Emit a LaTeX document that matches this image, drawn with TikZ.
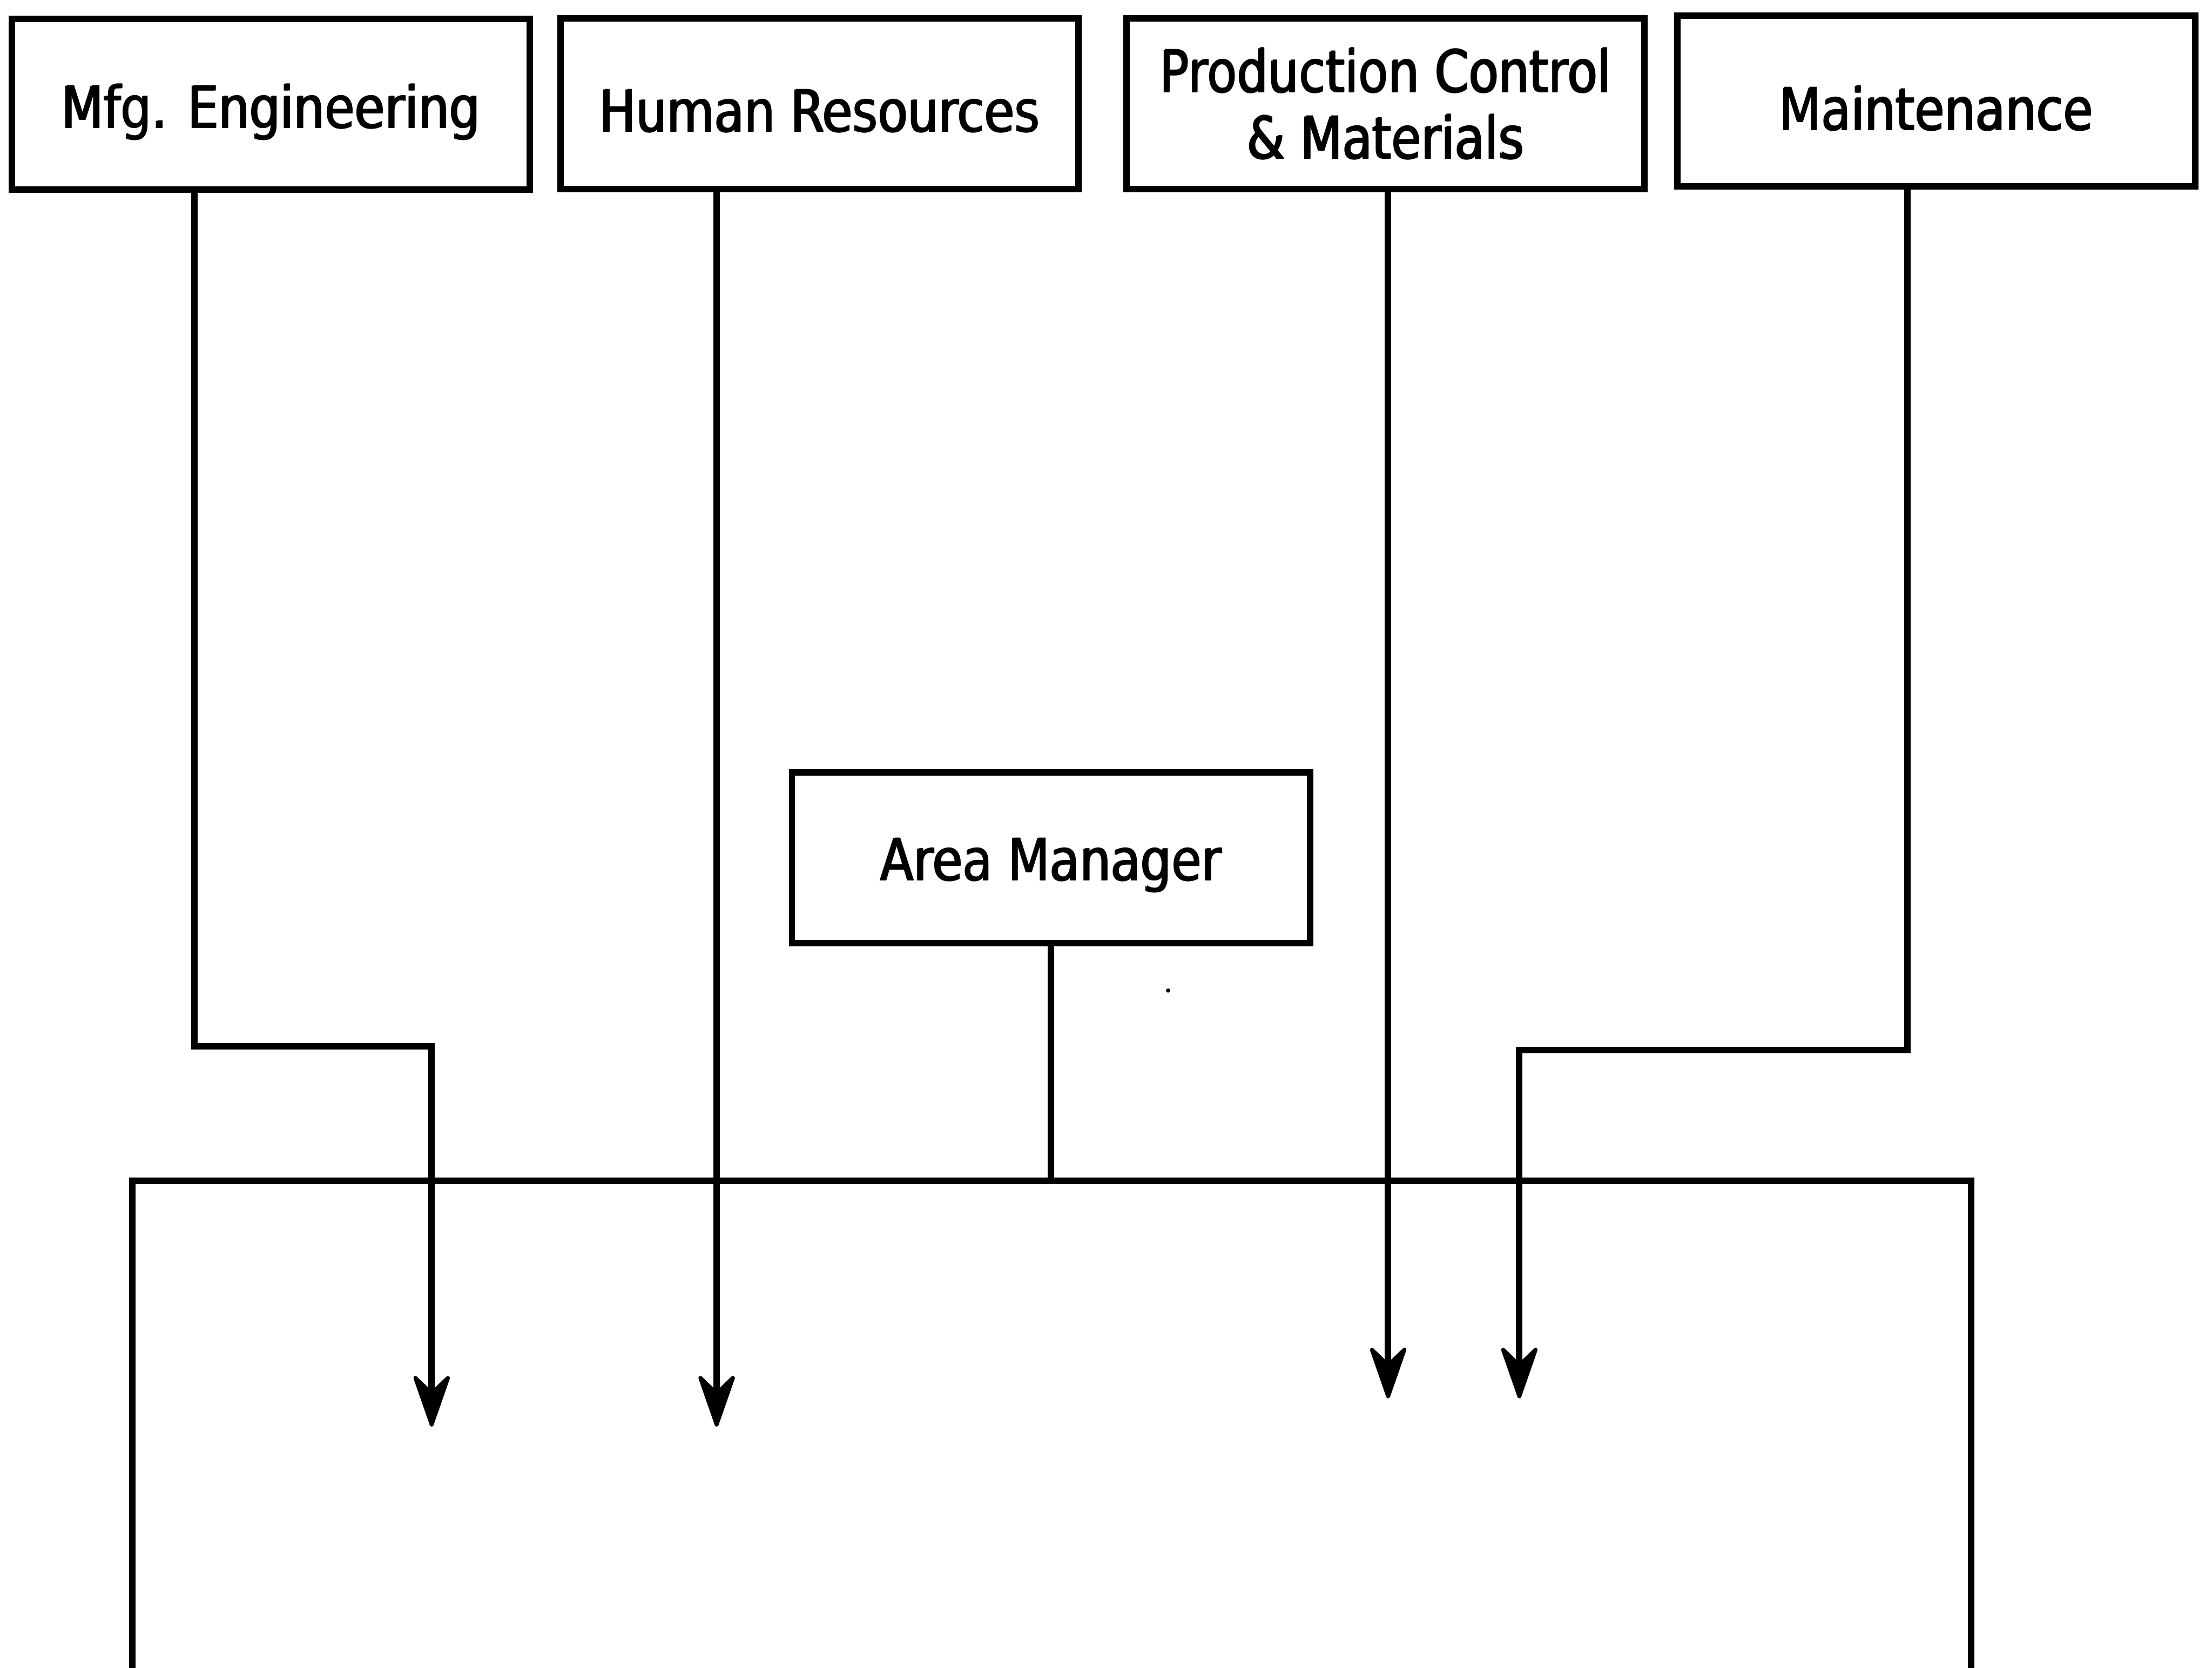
\documentclass[tikz,border=0pt]{standalone}
\usepackage{fontspec}
\setmainfont{DejaVu Sans}[FakeStretch=0.84]
% text set twice with a slight offset for a heavier stroke
\newcommand\heavy[1]{\leavevmode\rlap{#1}\kern0.3pt\rlap{\raisebox{0.15pt}{#1}}#1}
\newcommand\lowered[1]{\raisebox{-1.5pt}[\height][\depth]{\heavy{#1}}}
\tikzset{
  dept/.style={draw, line width=1.3pt, rectangle, inner sep=0pt, outer sep=0pt,
    minimum width=3.67cm, minimum height=1.21cm, align=center,
    font=\fontsize{11.7}{13.4}\selectfont},
  link/.style={line width=1.3pt},
  barb/.style={line width=0.8pt, line join=round, fill},
}
% arrowhead pointing down with its tip at the given coordinate
\newcommand\downtip[1]{%
  \draw[barb] ([yshift=0.014cm]#1) -- ++(-11.5,-33) -- ++(11.5,11) -- ++(11.5,-11) -- cycle;}
\begin{document}
\begin{tikzpicture}[x=0.01cm, y=-0.01cm]
  \useasboundingbox (0,0) rectangle (1568,1182);
  \fill[white] (0,0) rectangle (1568,1182);
  \clip (0,0) rectangle (1568,1182);

  % support departments
  \node[dept] (mfg) at (192,74)    {\lowered{Mfg. Engineering}};
  \node[dept] (hr)  at (581,73.5)  {\lowered{Human Resources}};
  \node[dept] (pc)  at (982,73.5)  {\heavy{Production Control}\\\heavy{\& Materials}};
  \node[dept] (mt)  at (1372.5,71.5) {\lowered{Maintenance}};

  % area manager and the work area below
  \node[dept] (am) at (745,608) {\lowered{Area Manager}};
  \node[draw, line width=1.3pt, rectangle, inner sep=0pt, outer sep=0pt,
        minimum width=13.03cm, minimum height=4.63cm] (area) at (745.5,1068.5) {};

  % entry points of the support lines into the area
  \coordinate (mfgin) at (306,1011);
  \coordinate (hrin)  at (508,1011);
  \coordinate (pcin)  at (984,991);
  \coordinate (mtin)  at (1077,991);

  \draw[link] ([xshift=-0.54cm]mfg.south) -- ++(0,607) -| ([yshift=0.2cm]mfgin);
  \draw[link] (hrin |- hr.south) -- ([yshift=0.2cm]hrin);
  \draw[link] (pcin |- pc.south) -- ([yshift=0.2cm]pcin);
  \draw[link] ([xshift=-0.205cm]mt.south) -- ++(0,612) -| ([yshift=0.2cm]mtin);
  \downtip{mfgin}
  \downtip{hrin}
  \downtip{pcin}
  \downtip{mtin}

  \draw[link] (am.south) -- (am.south |- area.north);

  \fill (828,702) circle (1.5);
\end{tikzpicture}
\end{document}
